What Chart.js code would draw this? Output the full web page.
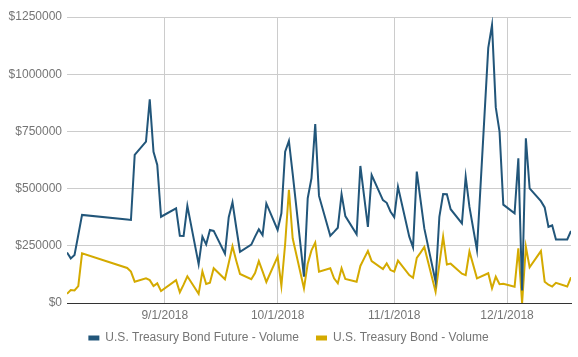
<!DOCTYPE html>
<html>
<head>
<meta charset="utf-8">
<script src="https://cdn.jsdelivr.net/npm/chart.js@4/dist/chart.umd.min.js"></script>
<style>
  html, body { margin: 0; padding: 0; background: #fff; }
  #wrap { width: 578px; height: 357px; }
</style>
</head>
<body>
<div id="wrap"><canvas id="c" width="578" height="357"></canvas></div>
<script>
const dates = ['2018-08-06','2018-08-07','2018-08-08','2018-08-09','2018-08-10','2018-08-22','2018-08-23','2018-08-24','2018-08-27','2018-08-28','2018-08-29','2018-08-30','2018-08-31',
  '2018-09-04','2018-09-05','2018-09-06','2018-09-07','2018-09-10','2018-09-11','2018-09-12','2018-09-13','2018-09-14','2018-09-17','2018-09-18','2018-09-19','2018-09-20','2018-09-21','2018-09-24','2018-09-25','2018-09-26','2018-09-27','2018-09-28',
  '2018-10-01','2018-10-02','2018-10-03','2018-10-04','2018-10-05','2018-10-08','2018-10-09','2018-10-10','2018-10-11','2018-10-12','2018-10-15','2018-10-16','2018-10-17','2018-10-18','2018-10-19','2018-10-22','2018-10-23','2018-10-24','2018-10-25','2018-10-26','2018-10-29','2018-10-30','2018-10-31',
  '2018-11-01','2018-11-02','2018-11-05','2018-11-06','2018-11-07','2018-11-08','2018-11-09','2018-11-12','2018-11-13','2018-11-14','2018-11-15','2018-11-16','2018-11-19','2018-11-20','2018-11-21','2018-11-23','2018-11-26','2018-11-27','2018-11-28','2018-11-29','2018-11-30',
  '2018-12-03','2018-12-04','2018-12-05','2018-12-06','2018-12-07','2018-12-10','2018-12-11','2018-12-12','2018-12-13','2018-12-14','2018-12-17','2018-12-18'];

const futureVolume = [221000,195000,210000,297000,385000,365000,363000,647000,705000,890000,661000,603000,377000,
  414000,294000,293000,425000,170000,290000,256000,319000,315000,215000,375000,440000,330000,224000,255000,290000,322000,297000,435000,
  319000,392000,661000,708000,565000,115000,458000,545000,782000,468000,294000,311000,329000,476000,380000,300000,599000,466000,333000,559000,450000,438000,400000,
  375000,508000,290000,243000,574000,450000,326000,93000,377000,476000,475000,410000,348000,552000,420000,232000,1115000,1215000,855000,749000,430000,
  392000,632000,55000,720000,501000,445000,418000,333000,339000,278000,278000,315000];

const bondVolume = [40000,57000,55000,74000,217000,153000,137000,93000,108000,100000,74000,86000,52000,
  100000,47000,80000,117000,40000,138000,83000,89000,152000,104000,175000,248000,185000,127000,104000,131000,183000,138000,92000,
  203000,75000,258000,495000,283000,64000,172000,230000,264000,137000,152000,108000,86000,152000,105000,93000,162000,195000,227000,183000,148000,173000,144000,
  137000,185000,122000,110000,197000,220000,245000,49000,170000,290000,168000,172000,128000,122000,225000,108000,130000,64000,115000,82000,84000,
  71000,239000,0,246000,156000,227000,93000,80000,72000,88000,72000,112000];

const xTickDates = ['2018-09-01','2018-10-01','2018-11-01','2018-12-01'];
const xTickLabels = ['9/1/2018','10/1/2018','11/1/2018','12/1/2018'];
const yTicks = [0,250000,500000,750000,1000000,1250000];
const seriesNames = ['U.S. Treasury Bond Future - Volume','U.S. Treasury Bond - Volume'];
const seriesColors = ['#22567a','#d4aa00'];

const base = Date.UTC(2018,7,1);
function dayOf(s){ const p = s.split('-').map(Number); return (Date.UTC(p[0],p[1]-1,p[2]) - base) / 86400000; }
const xs = dates.map(dayOf);
const tickXs = xTickDates.map(dayOf);

Chart.defaults.font.family = 'Arial, "Liberation Sans", sans-serif';
Chart.defaults.font.size = 12;

const legendShift = {
  id: 'legendShift',
  afterLayout(chart) {
    const l = chart.legend;
    if (l) { l.top -= 8; l.bottom -= 8; }
  }
};

new Chart(document.getElementById('c'), {
  type: 'line',
  data: {
    datasets: [
      { label: seriesNames[0], data: xs.map((x,i)=>({x, y: futureVolume[i]})), borderColor: seriesColors[0], backgroundColor: seriesColors[0], borderWidth: 2, pointRadius: 0, tension: 0 },
      { label: seriesNames[1], data: xs.map((x,i)=>({x, y: bondVolume[i]})), borderColor: seriesColors[1], backgroundColor: seriesColors[1], borderWidth: 2, pointRadius: 0, tension: 0 }
    ]
  },
  plugins: [legendShift],
  options: {
    responsive: false,
    animation: false,
    devicePixelRatio: 1,
    layout: { padding: { left: 6, right: 7, top: 17, bottom: 0 } },
    plugins: {
      tooltip: { enabled: false },
      legend: {
        position: 'bottom',
        maxHeight: 34,
        labels: {
          boxWidth: 11, boxHeight: 5, padding: 17, color: '#757575',
          font: { size: 12 },
          generateLabels: (chart) => Chart.defaults.plugins.legend.labels.generateLabels(chart).map(l => ({...l, lineWidth: 0}))
        }
      }
    },
    scales: {
      x: {
        type: 'linear',
        min: xs[0], max: xs[xs.length-1],
        afterBuildTicks: (s) => { s.ticks = tickXs.map(v => ({value: v})); },
        afterFit: (s) => { s.height = 20; },
        ticks: {
          color: '#757575', padding: 5, maxRotation: 0, autoSkip: false,
          callback: (v) => { const i = tickXs.indexOf(v); return i >= 0 ? xTickLabels[i] : ''; }
        },
        grid: { color: '#cccccc', drawTicks: false },
        border: { display: true, color: '#333333', width: 1 }
      },
      y: {
        min: yTicks[0], max: yTicks[yTicks.length-1],
        afterBuildTicks: (s) => { s.ticks = yTicks.map(v => ({value: v})); },
        afterFit: (s) => { s.width = 61; },
        ticks: { color: '#757575', padding: 5, callback: (v) => '$' + v },
        grid: { color: '#cccccc', drawTicks: false },
        border: { display: false }
      }
    }
  }
});
</script>
</body>
</html>
